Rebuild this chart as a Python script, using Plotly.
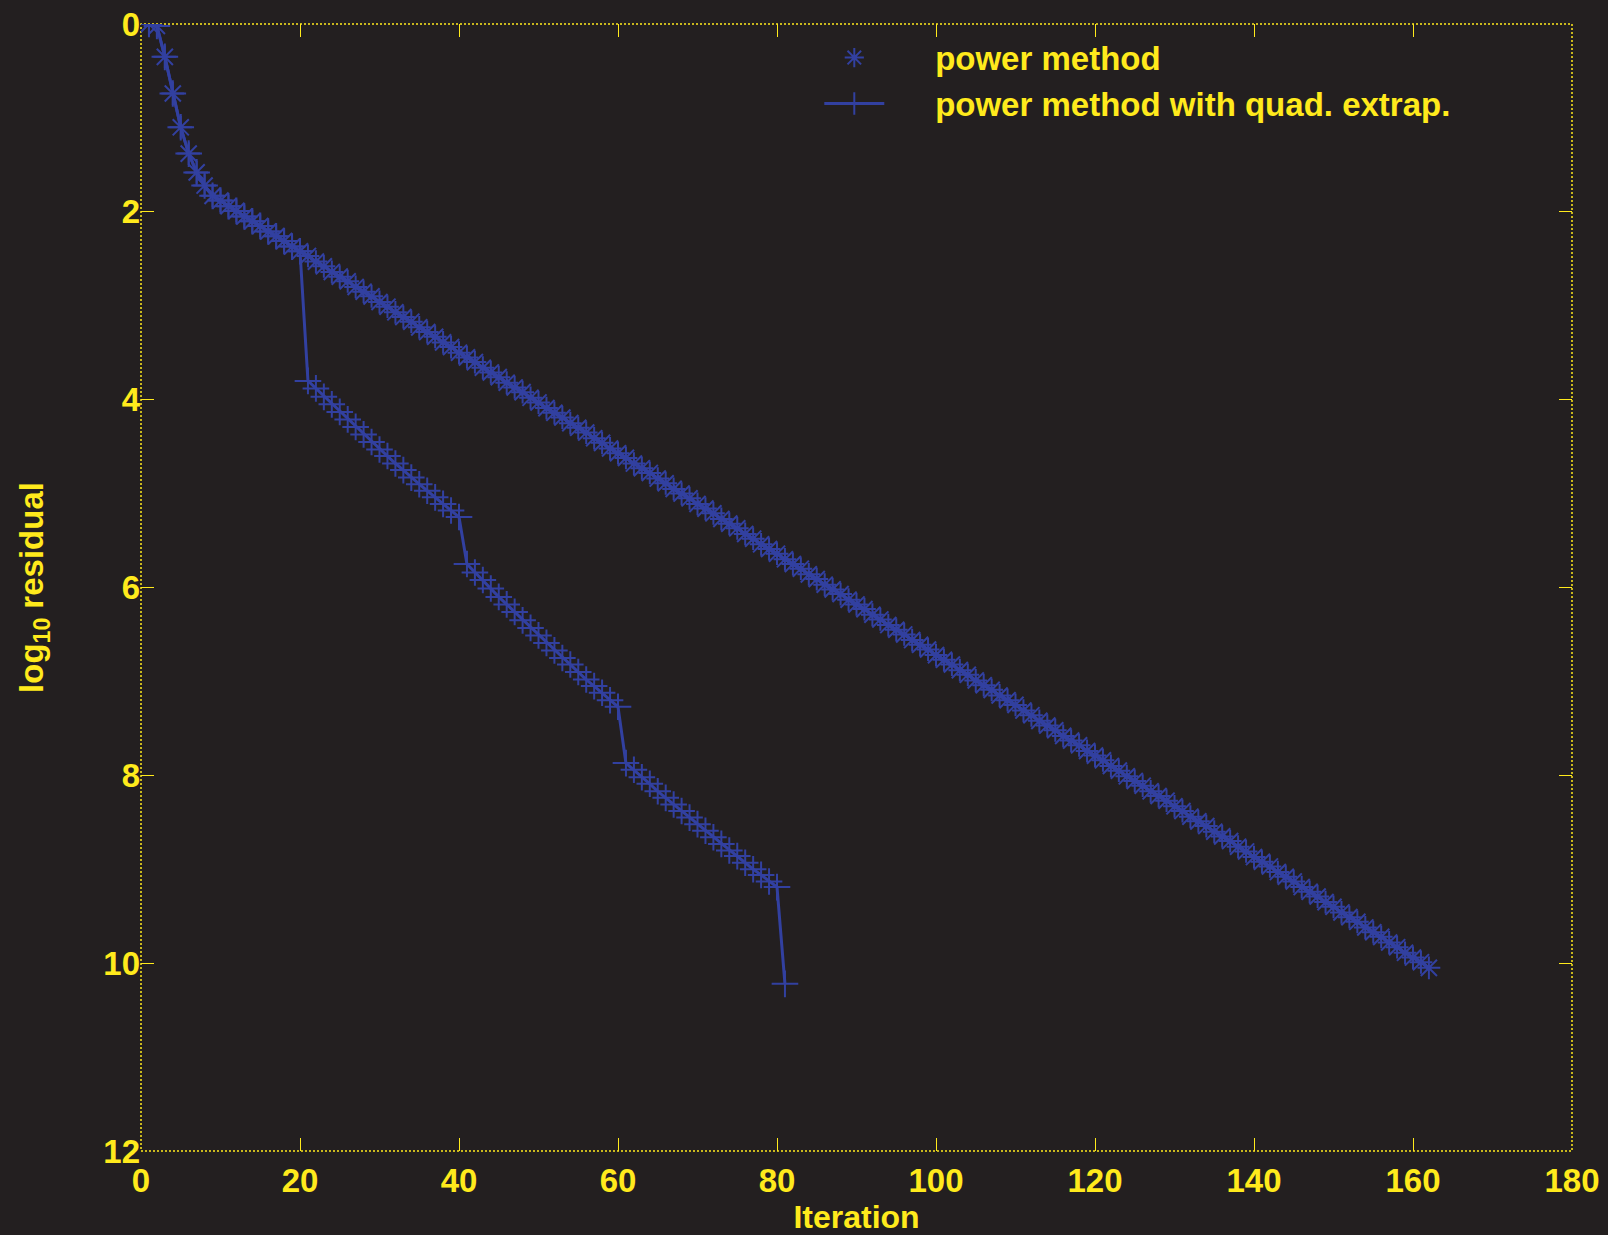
import plotly.graph_objects as go

# ---- data ----
iter_power = list(range(1, 163))
res_power = [
    0.00, 0.02, 0.35, 0.74, 1.10, 1.38, 1.58, 1.72, 1.83,
    1.88, 1.94, 1.99, 2.05, 2.10, 2.15, 2.21, 2.26, 2.31, 2.37, 2.42,
    2.47, 2.53, 2.58, 2.64, 2.69, 2.74, 2.80, 2.85, 2.90, 2.96,
    3.01, 3.07, 3.12, 3.17, 3.23, 3.28, 3.33, 3.39, 3.44, 3.50,
    3.55, 3.60, 3.66, 3.71, 3.76, 3.82, 3.87, 3.92, 3.98, 4.03,
    4.09, 4.14, 4.19, 4.25, 4.30, 4.35, 4.41, 4.46, 4.52, 4.57,
    4.62, 4.68, 4.73, 4.78, 4.84, 4.89, 4.95, 5.00, 5.05, 5.11,
    5.16, 5.21, 5.27, 5.32, 5.37, 5.43, 5.48, 5.54, 5.59, 5.64,
    5.70, 5.75, 5.80, 5.86, 5.91, 5.97, 6.02, 6.07, 6.13, 6.18,
    6.23, 6.29, 6.34, 6.40, 6.45, 6.50, 6.56, 6.61, 6.66, 6.72,
    6.77, 6.82, 6.88, 6.93, 6.99, 7.04, 7.09, 7.15, 7.20, 7.25,
    7.31, 7.36, 7.42, 7.47, 7.52, 7.58, 7.63, 7.68, 7.74, 7.79,
    7.84, 7.90, 7.95, 8.01, 8.06, 8.11, 8.17, 8.22, 8.27, 8.33,
    8.38, 8.44, 8.49, 8.54, 8.60, 8.65, 8.70, 8.76, 8.81, 8.87,
    8.92, 8.97, 9.03, 9.08, 9.13, 9.19, 9.24, 9.29, 9.35, 9.40,
    9.46, 9.51, 9.56, 9.62, 9.67, 9.72, 9.78, 9.83, 9.89, 9.94,
    9.99, 10.05,
]

iter_quad = list(range(1, 82))
res_quad = [
    0.00, 0.02, 0.35, 0.74, 1.10, 1.38, 1.58, 1.72, 1.83,
    1.88, 1.94, 1.99, 2.05, 2.10, 2.15, 2.21, 2.26, 2.31, 2.37, 2.42,
    3.80, 3.88, 3.97, 4.05, 4.13, 4.21, 4.29, 4.37, 4.45, 4.53,
    4.60, 4.68, 4.75, 4.83, 4.90, 4.97, 5.04, 5.11, 5.18, 5.25,
    5.75, 5.84, 5.92, 6.01, 6.10, 6.18, 6.26, 6.35, 6.43, 6.51,
    6.59, 6.67, 6.75, 6.82, 6.90, 6.98, 7.05, 7.12, 7.20, 7.27,
    7.87, 7.94, 8.02, 8.09, 8.17, 8.24, 8.31, 8.38, 8.45, 8.52,
    8.59, 8.66, 8.73, 8.80, 8.86, 8.93, 9.00, 9.06, 9.13, 9.19,
    10.22,
]

x_ticks = [0, 20, 40, 60, 80, 100, 120, 140, 160, 180]
y_ticks = [0, 2, 4, 6, 8, 10, 12]

BG = "#231f20"
YEL = "#ffea1c"
BLUE = "#3240a0"
FONT = "Liberation Sans, Arial, sans-serif"
PAD = "&nbsp;" * 5

fig = go.Figure()

# power method: connecting line (no legend) + asterisk markers
fig.add_trace(go.Scatter(
    x=iter_power, y=res_power, mode="lines",
    line=dict(color=BLUE, width=3), showlegend=False, hoverinfo="skip",
))
fig.add_trace(go.Scatter(
    x=iter_power, y=res_power, mode="markers", name=PAD + "power method",
    marker=dict(symbol="asterisk-open", size=19, color=BLUE,
                line=dict(color=BLUE, width=2)),
))
fig.add_trace(go.Scatter(
    x=iter_quad, y=res_quad, mode="lines+markers",
    name=PAD + "power method with quad. extrap.",
    line=dict(color=BLUE, width=3),
    marker=dict(symbol="cross-thin-open", size=19, color=BLUE,
                line=dict(color=BLUE, width=2)),
))

axis_common = dict(
    showgrid=False, zeroline=False, showline=False, automargin=False,
    ticks="inside", ticklen=13, tickwidth=1.3, tickcolor=YEL,
    mirror="ticks",
    tickfont=dict(family=FONT, size=33, color=YEL, weight="bold"),
)

fig.update_layout(
    template="none",
    width=1608, height=1235,
    paper_bgcolor=BG, plot_bgcolor=BG,
    margin=dict(l=141, r=36, t=24, b=84),
    font=dict(family=FONT, color=YEL, weight="bold"),
    xaxis=dict(
        range=[0, 180], tickmode="array", tickvals=x_ticks,
        ticktext=[str(v) for v in x_ticks], ticklabelstandoff=7,
        title=dict(text="Iteration", standoff=7,
                   font=dict(family=FONT, size=32, color=YEL, weight="bold")),
        **axis_common,
    ),
    yaxis=dict(
        range=[12, 0], tickmode="array", tickvals=y_ticks,
        ticktext=[str(v) for v in y_ticks],
        title=dict(text="log<sub>10</sub> residual", standoff=49,
                   font=dict(family=FONT, size=33, color=YEL, weight="bold")),
        **axis_common,
    ),
    legend=dict(
        x=0.474, y=0.995, xanchor="left", yanchor="top",
        bgcolor="rgba(0,0,0,0)", itemwidth=60, borderwidth=0,
        font=dict(family=FONT, size=33, color=YEL, weight="bold"),
        tracegroupgap=0,
    ),
    shapes=[dict(
        type="rect", xref="x domain", yref="y domain",
        x0=0, x1=1, y0=0, y1=1, layer="below",
        line=dict(color=YEL, width=1.5, dash="2px,2px"),
    )],
)

fig.write_html(
    "out.html",
    config={"displayModeBar": False},
    post_script="document.body.style.margin='0';"
                "document.body.style.background='#231f20';",
)
